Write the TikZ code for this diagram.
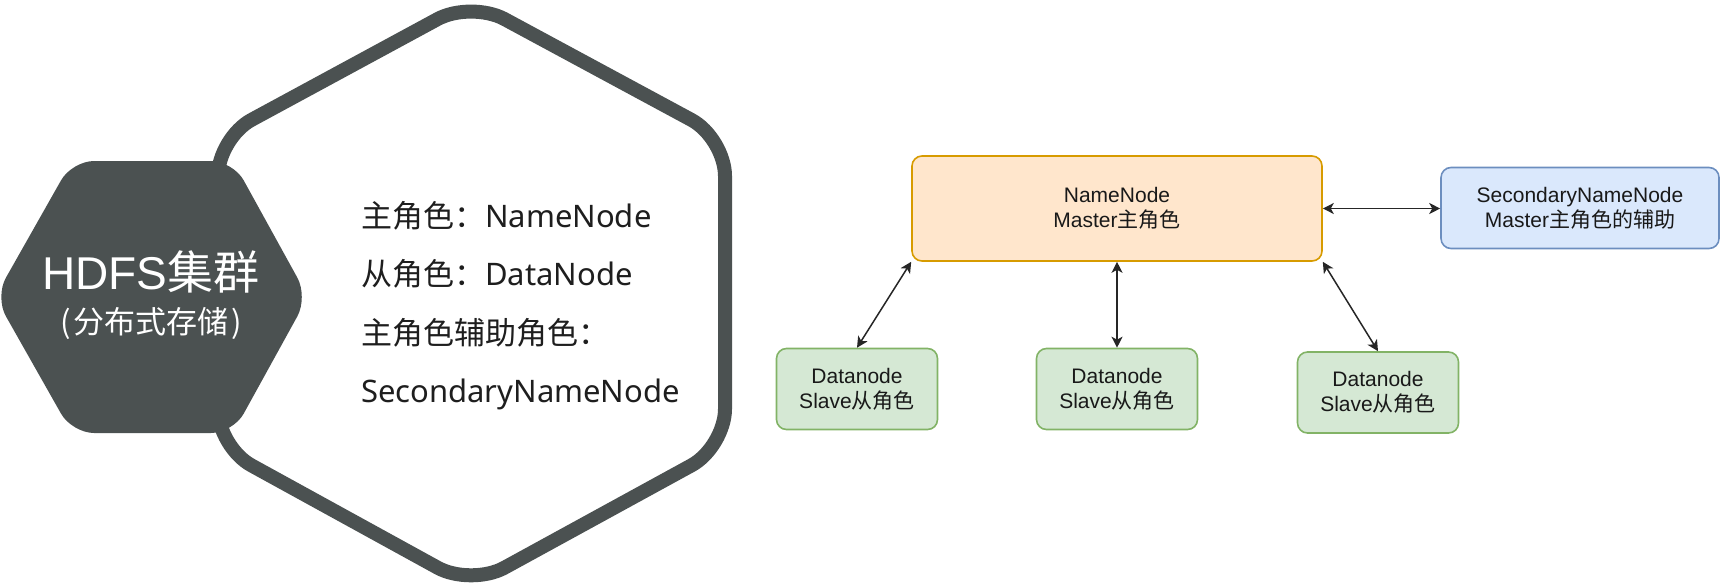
\documentclass[tikz,border=0pt]{standalone}
\usepackage{fontspec}
\setmainfont{Noto Sans CJK SC}
\newfontfamily\dio{Liberation Sans}
\newfontfamily\lat{Noto Sans}
\newfontfamily\cjkf{Noto Sans CJK SC}
\usetikzlibrary{arrows.meta}
\definecolor{hexdark}{RGB}{75,81,81}
\definecolor{txtdark}{RGB}{30,30,30}
\definecolor{orfill}{HTML}{FFE6CC}
\definecolor{ordraw}{HTML}{D79B00}
\definecolor{blfill}{HTML}{DAE8FC}
\definecolor{bldraw}{HTML}{6C8EBF}
\definecolor{grfill}{HTML}{D5E8D4}
\definecolor{grdraw}{HTML}{82B366}
\tikzset{
  dbox/.style={draw, line width=1.6pt, rounded corners=10pt, align=center,
    font=\dio\fontsize{21}{25}\selectfont, text=black!90, inner sep=0pt},
  orbox/.style={dbox, fill=orfill, draw=ordraw},
  blbox/.style={dbox, fill=blfill, draw=bldraw},
  grbox/.style={dbox, fill=grfill, draw=grdraw, minimum width=161pt, minimum height=81pt},
  link/.style={line width=1.5pt, draw=black!85,
    arrows={Stealth[length=11pt,width=11pt,inset=3pt]-Stealth[length=11pt,width=11pt,inset=3pt]}},
  roletext/.style={anchor=base west, inner sep=0pt, text=txtdark,
    font=\fontsize{31}{36}\selectfont}
}
\begin{document}
\begin{tikzpicture}[x=1pt,y=-1pt]
\useasboundingbox (0,0) rectangle (1728,586);
% big hexagon outline
\draw[draw=hexdark, fill=white, line width=14pt, rounded corners=38pt]
  (725,293) -- (725,447) -- (471,586) -- (218,447) -- (218,138) -- (471,1) -- (725,138) -- cycle;
% dark hexagon
\fill[hexdark, rounded corners=22pt]
  (153,161) -- (233,161) -- (308,297) -- (233,433) -- (72,433) -- (-5,297) -- (72,161) -- cycle;
\node[text=white, inner sep=0pt, font=\fontsize{46}{50}\selectfont] (title) at (151,272) {{\dio HDFS}集群};
\node[text=white, inner sep=0pt, font=\fontsize{31}{36}\selectfont] (sub) at (151,323) {(\kern3pt分布式存储\kern3pt)};
% role texts
\node[roletext] (r1) at (361,227.5) {主角色：{\lat NameNode}};
\node[roletext] (r2) at (361,285.5) {从角色：{\lat DataNode}};
\node[roletext] (r3) at (361,344) {主角色辅助角色：};
\node[roletext] (r4) at (361,402) {{\lat SecondaryNameNode}};
% diagram
\node[orbox, minimum width=410pt, minimum height=105pt] (NN) at (1117,208.5) {NameNode\\Master{\cjkf 主角色}};
\node[blbox, minimum width=278pt, minimum height=81pt] (SN) at (1580,208) {SecondaryNameNode\\Master{\cjkf 主角色的辅助}};
\node[grbox] (D1) at (857,389) {Datanode\\Slave{\cjkf 从角色}};
\node[grbox] (D2) at (1117,389) {Datanode\\Slave{\cjkf 从角色}};
\node[grbox] (D3) at (1378,392.5) {Datanode\\Slave{\cjkf 从角色}};
\draw[link] (NN.east) -- (NN.east -| SN.west);
\draw[link] (D1.north) -- (NN.south west);
\draw[link] (D2.north) -- (NN.south);
\draw[link] (D3.north) -- (NN.south east);
\end{tikzpicture}
\end{document}
